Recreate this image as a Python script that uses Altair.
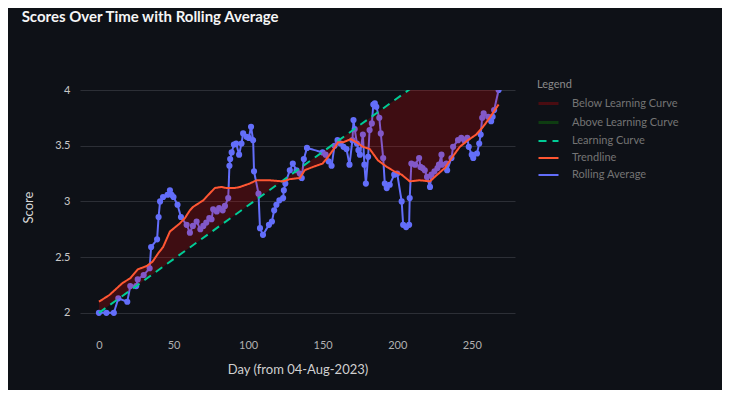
import altair as alt
import pandas as pd
import numpy as np

# Rolling average (day, score)
ra_days = [0, 5, 10, 13, 19, 21, 25, 26, 30, 34, 35, 39, 40, 41, 43, 46, 47.6, 48.7, 50, 52.7,
           55, 58.8, 61, 63, 65.5, 68, 70, 72, 74, 75.5, 76.6, 79, 80.6, 83, 84.5, 86.7, 87.5, 88,
           89, 90.5, 92, 94, 95.6, 96.7, 99, 100.5, 102, 103.4, 104, 107, 108, 110, 114, 116, 117.5,
           119, 121, 123.5, 124, 125, 128, 130, 132.5, 134.7, 136, 137.4, 139.5, 150, 152, 154, 156,
           158, 160, 162, 164, 166, 168, 170, 170.7, 171.5, 173, 174, 175, 177, 178, 179, 180.5,
           181.5, 183, 184, 185, 186, 188, 189, 190.6, 191.7, 193, 195, 198, 200, 203, 204, 206, 208,
           208.4, 209.5, 212, 214.7, 215.6, 217, 218.5, 220, 222, 223, 225, 227, 228, 229.7, 230,
           233, 233.5, 236.4, 237.5, 240.8, 243, 245, 247, 248, 250, 251, 253.5, 255, 256, 257, 258,
           261, 263, 264, 265, 268]
ra_vals = [2.00, 2.00, 2.00, 2.13, 2.10, 2.24, 2.24, 2.30, 2.34, 2.40, 2.59, 2.66, 2.86, 3.00, 3.04, 3.06, 3.10, 3.06, 3.04, 2.97,
           2.86, 2.79, 2.72, 2.78, 2.82, 2.75, 2.78, 2.81, 2.85, 2.84, 2.93, 2.91, 2.94, 2.92, 2.96, 3.03, 3.32, 3.38,
           3.44, 3.51, 3.52, 3.42, 3.52, 3.61, 3.58, 3.57, 3.67, 3.55, 3.27, 3.07, 2.76, 2.70, 2.79, 2.82, 2.92,
           2.97, 3.01, 3.03, 3.10, 3.16, 3.28, 3.34, 3.28, 3.25, 3.21, 3.38, 3.48, 3.44, 3.42, 3.36, 3.32,
           3.50, 3.55, 3.52, 3.49, 3.47, 3.33, 3.55, 3.73, 3.65, 3.52, 3.46, 3.42, 3.60, 3.33, 3.16, 3.40,
           3.64, 3.70, 3.87, 3.88, 3.85, 3.75, 3.61, 3.39, 3.16, 3.12, 3.15, 3.24, 3.25, 3.00, 2.79, 2.77, 2.79,
           3.03, 3.34, 3.33, 3.39, 3.31, 3.30, 3.28, 3.22, 3.13, 3.24, 3.27, 3.30, 3.33, 3.42, 3.33,
           3.34, 3.28, 3.39, 3.49, 3.55, 3.57, 3.55, 3.57, 3.49, 3.42, 3.39, 3.43, 3.52, 3.60, 3.75, 3.79,
           3.76, 3.72, 3.76, 3.82, 4.00]

# Trendline
tr_days = [0, 7, 16, 21, 26, 32, 36, 40, 43, 47.6, 54, 57.6, 61, 63, 70, 72, 77.7, 82, 85.6, 91,
           94.5, 101, 105.7, 114.6, 123.5, 128, 134.7, 138, 143.6, 150, 153.7, 158, 160.4, 163.7, 169,
           172.7, 177, 181.6, 187, 193, 198, 203, 208.4, 215, 222, 226, 232, 236, 242, 247.5, 253,
           257.6, 262, 268]
tr_vals = [2.10, 2.16, 2.27, 2.31, 2.39, 2.42, 2.46, 2.54, 2.59, 2.73, 2.80, 2.85, 2.92, 2.95, 3.01, 3.04, 3.12, 3.13, 3.12, 3.12,
           3.13, 3.16, 3.19, 3.19, 3.18, 3.20, 3.21, 3.28, 3.31, 3.34, 3.40, 3.48, 3.53, 3.53, 3.56,
           3.53, 3.49, 3.47, 3.37, 3.31, 3.27, 3.24, 3.18, 3.19, 3.18, 3.23, 3.30, 3.38, 3.49, 3.55, 3.60,
           3.67, 3.75, 3.87]

# Learning curve (straight line)
lc_days = [0, 270]
lc_vals = [2.0, 4.6]

series_names = ["Below Learning Curve", "Above Learning Curve", "Learning Curve", "Trendline", "Rolling Average"]
series_colors = ["#4a0d12", "#0f3d12", "#00cc96", "#ff5733", "#636efa"]
series_dash = [[1, 0], [1, 0], [8, 6], [1, 0], [1, 0]]
series_width = [3, 3, 2, 2, 2]

ra_df = pd.DataFrame({"day": ra_days, "val": ra_vals, "series": "Rolling Average"})
tr_df = pd.DataFrame({"day": tr_days, "val": tr_vals, "series": "Trendline"})
lc_df = pd.DataFrame({"day": lc_days, "val": lc_vals, "series": "Learning Curve"})
fill_df = pd.DataFrame({"day": tr_days, "val": tr_vals,
                        "lc": np.interp(tr_days, lc_days, lc_vals)})

FONT = "Lato"
xscale = alt.Scale(domain=[-12.7, 279], nice=False, zero=False)
yscale = alt.Scale(domain=[1.9, 4.0], nice=False, zero=False)
xaxis = alt.Axis(values=[0, 50, 100, 150, 200, 250], grid=False, domain=False, ticks=False,
                 labelPadding=15, titlePadding=13, labelColor="#b0b0b0", titleColor="#d0d0d0",
                 labelFontSize=11, titleFontSize=13, titleFontWeight="normal")
yaxis = alt.Axis(values=[2, 2.5, 3, 3.5, 4], format="~g", grid=True, gridColor="#2c2f36",
                 domain=False, ticks=False, labelPadding=10, titlePadding=19,
                 labelColor="#c8c8c8", titleColor="#d8d8d8", labelFontSize=11,
                 titleFontSize=13, titleFontWeight="normal")

X = alt.X("day:Q", scale=xscale, axis=xaxis, title="Day (from 04-Aug-2023)")
Y = alt.Y("val:Q", scale=yscale, axis=yaxis, title="Score")

legend = alt.Legend(title="Legend", orient="none", legendX=457, legendY=-11,
                    symbolType="stroke", symbolSize=400, titleColor="#8a8a8a",
                    labelColor="#747474", titleFontSize=11, labelFontSize=11,
                    titleFontWeight="normal", rowPadding=1, titlePadding=2, labelOffset=12)
color = alt.Color("series:N", scale=alt.Scale(domain=series_names, range=series_colors), legend=legend)
dash = alt.StrokeDash("series:N", scale=alt.Scale(domain=series_names, range=series_dash), legend=legend)
width = alt.StrokeWidth("series:N", scale=alt.Scale(type="ordinal", domain=series_names, range=series_width),
                        legend=legend)

ra_layer = alt.Chart(ra_df).mark_line(
    clip=True, point=alt.OverlayMarkDef(size=38, filled=True, opacity=1)
).encode(x=X, y=Y, color=color, strokeDash=dash, strokeWidth=width)

fill_layer = alt.Chart(fill_df).mark_area(color="#ff0000", opacity=0.2, clip=True).encode(
    x=X, y=Y, y2="lc:Q")

lc_layer = alt.Chart(lc_df).mark_line(clip=True).encode(
    x=X, y=Y, color=color, strokeDash=dash, strokeWidth=width)

tr_layer = alt.Chart(tr_df).mark_line(clip=True).encode(
    x=X, y=Y, color=color, strokeDash=dash, strokeWidth=width)

chart = alt.layer(ra_layer, fill_layer, lc_layer, tr_layer).properties(
    width=435, height=234,
    autosize=alt.AutoSizeParams(type="none"),
    padding={"left": 72, "top": 82, "right": 207, "bottom": 66},
    background="#0e1117",
    title=alt.TitleParams("Scores Over Time with Rolling Average", anchor="start",
                          fontSize=15, fontWeight="bold", color="#f5f5f5", font=FONT,
                          offset=54, dx=-1),
).configure(font=FONT).configure_view(stroke=None)

chart.save("out.html", embed_options={"renderer": "svg", "actions": False})
